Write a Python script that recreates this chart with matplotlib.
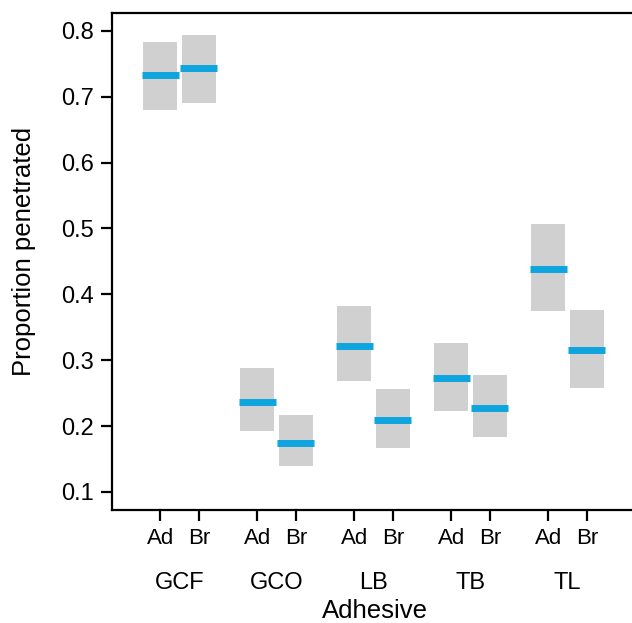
import matplotlib
matplotlib.use("Agg")
import matplotlib.pyplot as plt

plt.rcParams['font.family'] = ['Liberation Sans', 'DejaVu Sans']

# data
adhesives = ['GCF', 'GCO', 'LB', 'TB', 'TL']
conditions = ['Ad', 'Br']
mean_ad = [0.733, 0.237, 0.322, 0.273, 0.438]
low_ad = [0.680, 0.192, 0.268, 0.223, 0.375]
high_ad = [0.783, 0.288, 0.383, 0.326, 0.506]
mean_br = [0.743, 0.175, 0.209, 0.227, 0.315]
low_br = [0.690, 0.139, 0.166, 0.184, 0.258]
high_br = [0.794, 0.217, 0.257, 0.278, 0.376]
yticks = [0.1, 0.2, 0.3, 0.4, 0.5, 0.6, 0.7, 0.8]

grey = '#d0d0d0'
blue = '#0ea5df'
offset = 0.2
box_w = 0.35
line_w = 0.38

fig = plt.figure(figsize=(6.32, 6.23), dpi=100)
ax = fig.add_axes([112 / 632, 1 - 510 / 623, 1 - 112 / 632, (510 - 13) / 623])

positions = []
labels = []
for i, name in enumerate(adhesives):
    for sign, mean, lo, hi, cond in [(-1, mean_ad[i], low_ad[i], high_ad[i], 'Ad'),
                                    (1, mean_br[i], low_br[i], high_br[i], 'Br')]:
        x = i + sign * offset
        ax.bar(x, hi - lo, bottom=lo, width=box_w, color=grey, edgecolor='none', zorder=1)
        ax.plot([x - line_w / 2, x + line_w / 2], [mean, mean], color=blue, lw=5,
                solid_capstyle='butt', zorder=2)
        positions.append(x)
        labels.append(cond)
    ax.text(i, -0.159, name, transform=ax.get_xaxis_transform(), ha='center',
            va='baseline', fontsize=17)

ax.set_xticks(positions)
ax.set_xticklabels(labels, fontsize=16)
ax.set_yticks(yticks)
ax.set_yticklabels(['%.1f' % v for v in yticks], fontsize=17)
ax.set_xlim(-0.696, 4.665)
ax.set_ylim(0.0726, 0.827)

for side in ['left', 'bottom', 'top']:
    ax.spines[side].set_linewidth(1.6)
ax.spines['right'].set_visible(False)
ax.tick_params(axis='both', direction='out', length=8, width=1.6, pad=5)

fig.text(24 / 632, 1 - 251.5 / 623, 'Proportion penetrated', rotation=90,
         ha='center', va='center', fontsize=18.5)
fig.text(375 / 632, 0.008, 'Adhesive', ha='center', va='baseline', fontsize=18.5)

fig.savefig('out.png', dpi=100)
